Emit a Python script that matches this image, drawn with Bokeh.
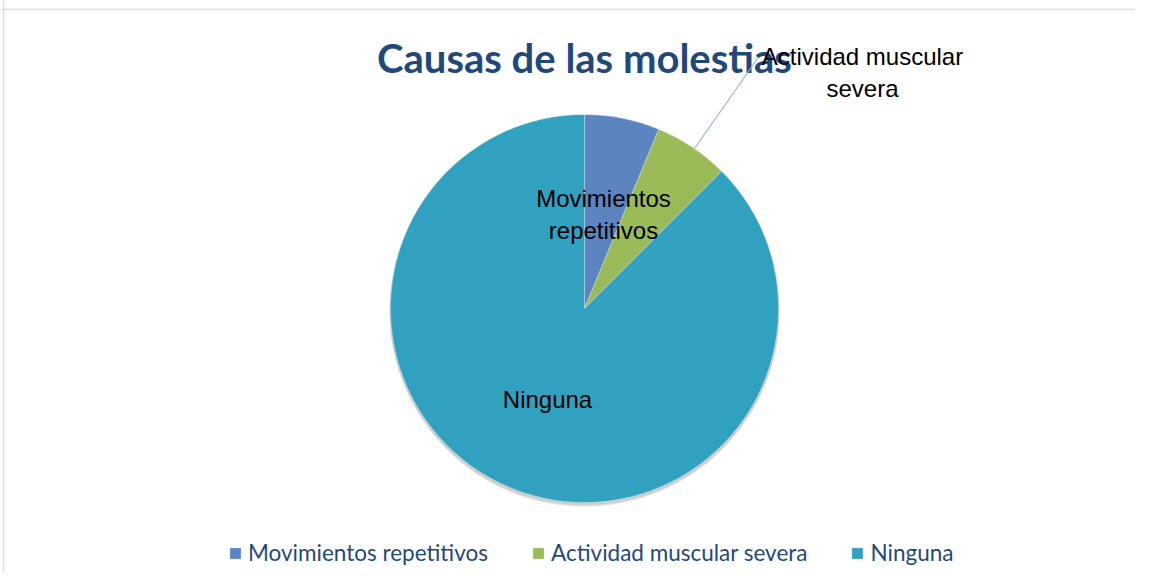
import math
from bokeh.plotting import figure
from bokeh.models import Range1d, Legend, LegendItem, Span, ColumnDataSource
from bokeh.core.properties import value
from bokeh.embed import file_html
from bokeh.resources import INLINE

# ---- data ----
categories = ["Movimientos repetitivos", "Actividad muscular severa", "Ninguna"]
counts = [1, 1, 14]
colors = ["#5B84C1", "#9BBB59", "#31A1C0"]
title_text = "Causas de las molestias"

W, H = 1135, 572
def sy(y):  # screen y -> data y
    return H - y

p = figure(width=W, height=H, output_backend="svg", toolbar_location=None,
           x_range=Range1d(0, W), y_range=Range1d(0, H),
           min_border=0, outline_line_color=None)
p.axis.visible = False
p.grid.visible = False
p.background_fill_color = "white"
p.border_fill_color = "white"

# chart frame (top / left edges)
p.add_layout(Span(location=sy(9), dimension="width", line_color="#D6E0EE", line_width=1.5))
p.add_layout(Span(location=3, dimension="height", line_color="#D6E0EE", line_width=1.5))

cx, cy, r = 584, sy(308), 194
total = sum(counts)
starts, ends = [], []
cum = 0
for c in counts:
    starts.append(math.pi / 2 - 2 * math.pi * cum / total)
    cum += c
    ends.append(math.pi / 2 - 2 * math.pi * cum / total)

# soft shadow
p.circle(x=[cx], y=[cy - 3], radius=r + 1, fill_color="#808080", fill_alpha=0.25, line_color=None)
p.circle(x=[cx], y=[cy - 1.5], radius=r + 1, fill_color="#808080", fill_alpha=0.2, line_color=None)

src = ColumnDataSource(dict(start=starts, end=ends, color=colors, cat=categories,
                            x=[cx] * 3, y=[cy] * 3))
wedges = p.wedge(x="x", y="y", radius=r, start_angle="start", end_angle="end",
                 direction="clock", fill_color="color", line_color="white",
                 line_alpha=0.5, line_width=0.6, source=src)

# title
p.text(x=[cx], y=[sy(57)], text=[title_text], text_font=value("Lato"),
       text_font_style="bold", text_font_size="40px", text_color="#1F497D",
       text_align="center", text_baseline="middle")

lab_font = value("Liberation Sans")
# data labels
p.text(x=[603], y=[sy(214)], text=["Movimientos\nrepetitivos"], text_font=lab_font,
       text_font_size="24px", text_color="black", text_align="center",
       text_baseline="middle", text_line_height=1.2)
p.text(x=[547], y=[sy(399)], text=["Ninguna"], text_font=lab_font,
       text_font_size="24px", text_color="black", text_align="center",
       text_baseline="middle")
# leader line for Actividad muscular severa
p.line(x=[694, 757], y=[sy(148), sy(58)], line_color="#8DB3E2", line_width=1.2)
p.text(x=[862], y=[sy(72)], text=["Actividad muscular\nsevera"], text_font=lab_font,
       text_font_size="24px", text_color="black", text_align="center",
       text_baseline="middle", text_line_height=1.2)

legend = Legend(items=[LegendItem(label=c, renderers=[wedges], index=i) for i, c in enumerate(categories)],
                orientation="horizontal", location=(228, 6),
                label_text_font="Lato", label_text_font_size="22.5px", label_text_color="#1F497D",
                glyph_width=14, glyph_height=14, label_standoff=6, spacing=43,
                padding=0, margin=0, border_line_color=None, background_fill_alpha=0)
p.add_layout(legend)

open("out.html", "w").write(file_html(p, INLINE))
